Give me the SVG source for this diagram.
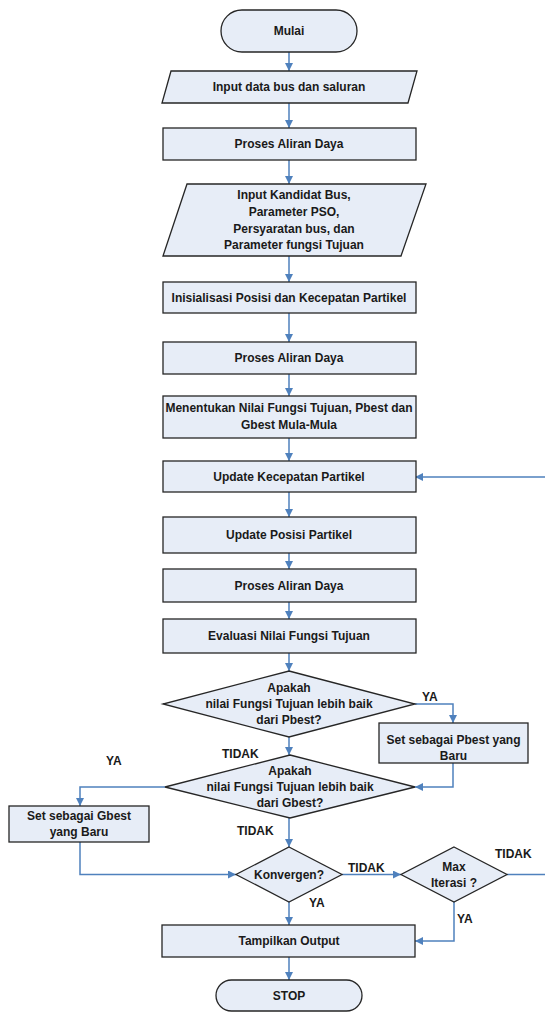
<svg xmlns="http://www.w3.org/2000/svg" width="545" height="1012" viewBox="0 0 545 1012">
<style>
.n{fill:#E7EDF7;stroke:#262626;stroke-width:1.3}
.t{font-family:"Liberation Sans",Arial,sans-serif;font-weight:bold;font-size:12px;fill:#1a1a1a;text-anchor:middle}
.l{font-family:"Liberation Sans",Arial,sans-serif;font-weight:bold;font-size:12px;fill:#1a1a1a}
.c{fill:none;stroke:#4F81BD;stroke-width:1.5;marker-end:url(#ah)}
</style>
<defs>
<marker id="ah" markerUnits="userSpaceOnUse" markerWidth="10" markerHeight="8" refX="8" refY="4" orient="auto">
<path d="M0,0 L8,4 L0,8 Z" fill="#4F81BD"/>
</marker>
</defs>
<rect width="545" height="1012" fill="#fff"/>
<g id="connectors">
<path class="c" d="M289,52 V71"/>
<path class="c" d="M289,103 V128"/>
<path class="c" d="M289,160 V184"/>
<path class="c" d="M289,256 V282"/>
<path class="c" d="M289,313 V342"/>
<path class="c" d="M289,374 V396"/>
<path class="c" d="M289,438 V461"/>
<path class="c" d="M289,492 V517"/>
<path class="c" d="M289,553 V569"/>
<path class="c" d="M289,602 V619"/>
<path class="c" d="M289,653 V671"/>
<path class="c" d="M289,737 V755"/>
<path class="c" d="M289,818 V847"/>
<path class="c" d="M289,902 V925"/>
<path class="c" d="M289,957 V980"/>
<path class="c" d="M415,704 H453 V723"/>
<path class="c" d="M453,763 V787 H415"/>
<path class="c" d="M165,787 H80 V806"/>
<path class="c" d="M80,842 V874.5 H236"/>
<path class="c" d="M342,874.5 H401"/>
<path class="c" d="M454,902 V941 H415"/>
<path class="c" d="M507,874.5 H550 V477 H415"/>
</g>
<g id="mulai">
<rect class="n" x="221" y="10" width="136" height="42" rx="21"/>
<text class="t" x="289" y="35">Mulai</text>
</g>
<g id="input-data">
<polygon class="n" points="171,71 417,71 408,103 162,103"/>
<text class="t" x="289" y="91">Input data bus dan saluran</text>
</g>
<g id="proses1">
<rect class="n" x="163" y="128" width="253" height="32"/>
<text class="t" x="289" y="148">Proses Aliran Daya</text>
</g>
<g id="input-kandidat">
<polygon class="n" points="187,184 426,184 401,256 163,256"/>
<text class="t" x="294" y="199">Input Kandidat Bus,</text>
<text class="t" x="294" y="216">Parameter PSO,</text>
<text class="t" x="294" y="232.5">Persyaratan bus, dan</text>
<text class="t" x="294" y="249">Parameter fungsi Tujuan</text>
</g>
<g id="inisialisasi">
<rect class="n" x="163" y="282" width="253" height="31"/>
<text class="t" x="289" y="302">Inisialisasi Posisi dan Kecepatan Partikel</text>
</g>
<g id="proses2">
<rect class="n" x="163" y="342" width="253" height="32"/>
<text class="t" x="289" y="362">Proses Aliran Daya</text>
</g>
<g id="menentukan">
<rect class="n" x="163" y="396" width="253" height="42"/>
<text class="t" x="289" y="412">Menentukan Nilai Fungsi Tujuan, Pbest dan</text>
<text class="t" x="289" y="429">Gbest Mula-Mula</text>
</g>
<g id="update-kecepatan">
<rect class="n" x="163" y="461" width="253" height="31"/>
<text class="t" x="289" y="481">Update Kecepatan Partikel</text>
</g>
<g id="update-posisi">
<rect class="n" x="163" y="517" width="253" height="36"/>
<text class="t" x="289" y="539">Update Posisi Partikel</text>
</g>
<g id="proses3">
<rect class="n" x="163" y="569" width="253" height="33"/>
<text class="t" x="289" y="590">Proses Aliran Daya</text>
</g>
<g id="evaluasi">
<rect class="n" x="163" y="619" width="253" height="34"/>
<text class="t" x="289" y="640">Evaluasi Nilai Fungsi Tujuan</text>
</g>
<g id="cek-pbest">
<polygon class="n" points="289,671 415,704 289,737 163,704"/>
<text class="t" x="289" y="692">Apakah</text>
<text class="t" x="289" y="708">nilai Fungsi Tujuan lebih baik</text>
<text class="t" x="289" y="724">dari Pbest?</text>
</g>
<g id="set-pbest">
<rect class="n" x="379" y="723" width="149" height="40"/>
<text class="t" x="453.5" y="744">Set sebagai Pbest yang</text>
<text class="t" x="453.5" y="760">Baru</text>
</g>
<g id="cek-gbest">
<polygon class="n" points="290,755 415,787 290,818 165,787"/>
<text class="t" x="290" y="775">Apakah</text>
<text class="t" x="290" y="791">nilai Fungsi Tujuan lebih baik</text>
<text class="t" x="290" y="807">dari Gbest?</text>
</g>
<g id="set-gbest">
<rect class="n" x="9" y="806" width="140" height="36"/>
<text class="t" x="79" y="820">Set sebagai Gbest</text>
<text class="t" x="79" y="836">yang Baru</text>
</g>
<g id="konvergen">
<polygon class="n" points="289,847 342,874.5 289,902 236,874.5"/>
<text class="t" x="289" y="879">Konvergen?</text>
</g>
<g id="max-iterasi">
<polygon class="n" points="454,847 507,874.5 454,902 401,874.5"/>
<text class="t" x="454" y="870.5">Max</text>
<text class="t" x="454" y="887">Iterasi ?</text>
</g>
<g id="tampilkan">
<rect class="n" x="162" y="925" width="253" height="32"/>
<text class="t" x="289" y="945">Tampilkan Output</text>
</g>
<g id="stop">
<rect class="n" x="216" y="980" width="146" height="31" rx="15.5"/>
<text class="t" x="289" y="1000">STOP</text>
</g>
<g id="labels">
<text class="l" x="422" y="701">YA</text>
<text class="l" x="222" y="757.5">TIDAK</text>
<text class="l" x="106" y="765">YA</text>
<text class="l" x="237" y="835">TIDAK</text>
<text class="l" x="348" y="871.5">TIDAK</text>
<text class="l" x="495" y="857.5">TIDAK</text>
<text class="l" x="309" y="906.5">YA</text>
<text class="l" x="457" y="922.5">YA</text>
</g>
</svg>
